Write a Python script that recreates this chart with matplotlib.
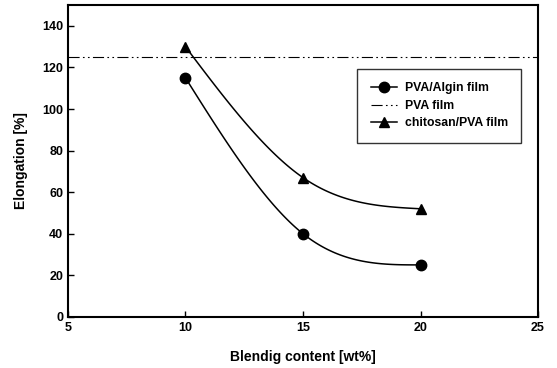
import numpy as np
import matplotlib.pyplot as plt

plt.rcParams['font.family'] = ['Liberation Sans', 'DejaVu Sans']
plt.rcParams['font.weight'] = 'bold'

content = [10, 15, 20]
algin = [115, 40, 25]
chitosan = [130, 67, 52]
pva_film = 125


def natural_spline(x, y, n=100):
    # natural cubic spline like the one the original plotting program draws
    x = np.asarray(x, float)
    y = np.asarray(y, float)
    k = len(x)
    h = np.diff(x)
    A = np.zeros((k, k))
    b = np.zeros(k)
    A[0, 0] = A[-1, -1] = 1
    for i in range(1, k - 1):
        A[i, i - 1] = h[i - 1]
        A[i, i] = 2 * (h[i - 1] + h[i])
        A[i, i + 1] = h[i]
        b[i] = 6 * ((y[i + 1] - y[i]) / h[i] - (y[i] - y[i - 1]) / h[i - 1])
    M = np.linalg.solve(A, b)
    xs = np.linspace(x[0], x[-1], n)
    ys = np.empty_like(xs)
    for j, t in enumerate(xs):
        i = min(np.searchsorted(x, t, side='right') - 1, k - 2)
        a = x[i + 1] - t
        c = t - x[i]
        ys[j] = (M[i] * a ** 3 + M[i + 1] * c ** 3) / (6 * h[i]) \
            + (y[i] / h[i] - M[i] * h[i] / 6) * a \
            + (y[i + 1] / h[i] - M[i + 1] * h[i] / 6) * c
    return xs, ys


fig = plt.figure(figsize=(5.57, 3.68), dpi=100)
ax = fig.add_axes([0.122, 0.139, 0.844, 0.847])

xs, ys = natural_spline(content, algin)
ax.plot(xs, ys, color='black', lw=1.1)
ax.plot(content, algin, 'o', color='black', ms=7.5)
ax.plot([], [], '-o', color='black', ms=7.5, lw=1.1, label='PVA/Algin film')

ax.axhline(pva_film, color='black', lw=0.8, dashes=(10, 3, 1.5, 3, 1.5, 3),
           label='PVA film')

xs, ys = natural_spline(content, chitosan)
ax.plot(xs, ys, color='black', lw=1.1)
ax.plot(content, chitosan, '^', color='black', ms=7.5)
ax.plot([], [], '-^', color='black', ms=7.5, lw=1.1, label='chitosan/PVA film')

ax.set_xlim(5, 25)
ax.set_ylim(0, 150)
ax.set_xticks([5, 10, 15, 20, 25])
ax.set_yticks(range(0, 141, 20))
ax.tick_params(direction='in', length=4, width=1, labelsize=9)
for s in ax.spines.values():
    s.set_linewidth(1.5)

ax.set_xlabel('Blendig content [wt%]', fontsize=10, fontweight='bold', labelpad=12)
ax.set_ylabel('Elongation [%]', fontsize=10, fontweight='bold', labelpad=10)

leg = ax.legend(loc='upper left', bbox_to_anchor=(0.615, 0.795), fontsize=8.8,
                frameon=True, fancybox=False, edgecolor='black',
                handlelength=2.2, handletextpad=0.6, borderpad=1.1,
                labelspacing=0.45, borderaxespad=0)
leg.get_frame().set_linewidth(1.0)

fig.savefig('out.png', dpi=100)
